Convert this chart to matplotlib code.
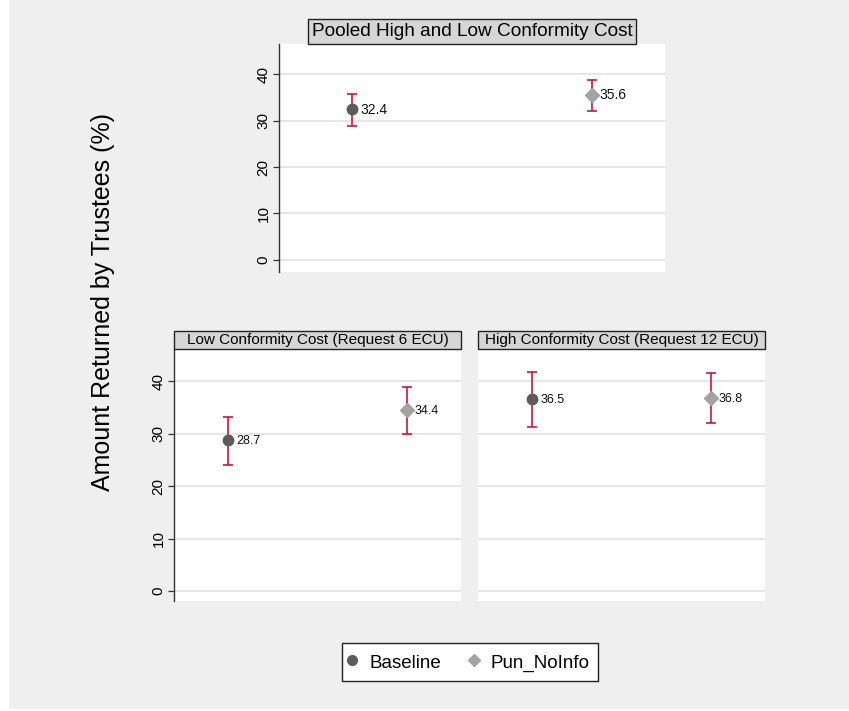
import matplotlib.pyplot as plt
from matplotlib.patches import Rectangle
from matplotlib.lines import Line2D

plt.rcParams['font.family'] = ['Liberation Sans', 'DejaVu Sans']

groups = ['Baseline', 'Pun_NoInfo']
xpos = [1, 2]

# means with lower / upper CI bounds
pooled_mean = [32.4, 35.6]
pooled_lo = [28.8, 32.1]
pooled_hi = [35.8, 38.8]

low_mean = [28.7, 34.4]
low_lo = [24.1, 29.9]
low_hi = [33.2, 38.9]

high_mean = [36.5, 36.8]
high_lo = [31.2, 32.1]
high_hi = [41.7, 41.6]

yticks = [0, 10, 20, 30, 40]

W, H = 849, 711
bg = '#efefef'
marker_color = ['#5b5b5b', '#a3a3a3']
marker_style = ['o', 'D']
marker_size = [7.5, 7]
ci_color = '#cc1444'

fig = plt.figure(figsize=(W / 100, H / 100), dpi=100, facecolor='white')
fig.patches.append(Rectangle((9 / W, 2 / H), 1, 1, transform=fig.transFigure,
                             facecolor=bg, edgecolor='none', zorder=-10))


def px_axes(left, right, top, bottom):
    return fig.add_axes([left / W, 1 - bottom / H, (right - left) / W, (bottom - top) / H])


def panel(ax, mean, lo, hi, title, full_box, label_size, ylim, show_y=True):
    ax.set_facecolor('white')
    for i in range(2):
        ax.errorbar(xpos[i], mean[i],
                    yerr=[[mean[i] - lo[i]], [hi[i] - mean[i]]],
                    fmt='none', ecolor=ci_color, elinewidth=1.2,
                    capsize=3.5, capthick=1.2, zorder=2)
        ax.plot(xpos[i], mean[i], marker=marker_style[i], ms=marker_size[i],
                color=marker_color[i], mec=marker_color[i], ls='none', zorder=3)
        ax.annotate('%.1f' % mean[i], (xpos[i], mean[i]), xytext=(5.5, -0.5),
                    textcoords='offset points', va='center', ha='left',
                    fontsize=label_size, color='#111111', zorder=4)
    ax.set_xlim(0.694, 2.306)
    ax.set_ylim(*ylim)
    ax.set_xticks([])
    ax.set_yticks(yticks)
    ax.grid(axis='y', color='#e4e4e4', lw=1.3)
    ax.set_axisbelow(True)
    for s in ['top', 'right', 'bottom']:
        ax.spines[s].set_visible(False)
    if show_y:
        ax.spines['left'].set_color('#333333')
        ax.spines['left'].set_linewidth(1.0)
        ax.tick_params(axis='y', length=4, width=0.9, color='#333333',
                       labelsize=11, pad=2)
        for t in ax.get_yticklabels():
            t.set_rotation(90)
            t.set_va('center')
    else:
        ax.spines['left'].set_visible(False)
        ax.tick_params(axis='y', length=0, labelleft=False)
    if full_box:
        ax.add_patch(Rectangle((0, 1), 1, 18 / ax.bbox.height, transform=ax.transAxes,
                               facecolor='#d6d6d6', edgecolor='#222222', lw=1.0,
                               clip_on=False, zorder=5))
        ax.text(0.5, 1 + 9 / ax.bbox.height, title, transform=ax.transAxes,
                ha='center', va='center', fontsize=11, zorder=6)
    else:
        ax.annotate(title, (0.5, 1), xycoords='axes fraction', xytext=(0, 3),
                    textcoords='offset points', ha='center', va='bottom',
                    fontsize=13.7, zorder=6,
                    bbox=dict(boxstyle='square,pad=0.2', fc='#d6d6d6',
                              ec='#222222', lw=1.0))


ax_top = px_axes(279, 665, 44, 272)
panel(ax_top, pooled_mean, pooled_lo, pooled_hi,
      'Pooled High and Low Conformity Cost', False, 10, (-2.6, 46.5))

ax_low = px_axes(174, 461, 349, 601)
panel(ax_low, low_mean, low_lo, low_hi,
      'Low Conformity Cost (Request 6 ECU)', True, 9, (-1.9, 46.1))

ax_high = px_axes(478, 765, 349, 601)
panel(ax_high, high_mean, high_lo, high_hi,
      'High Conformity Cost (Request 12 ECU)', True, 9, (-1.9, 46.1), show_y=False)

fig.text(103 / W, 1 - 302 / H, 'Amount Returned by Trustees (%)', rotation=90,
         ha='center', va='center', fontsize=18)

handles = [Line2D([], [], marker=marker_style[i], color=marker_color[i], ls='none',
                  ms=marker_size[i] - 0.5) for i in range(2)]
leg = fig.legend(handles, groups, loc='center', bbox_to_anchor=(470 / W, 1 - 662 / H),
                 ncol=2, fontsize=13.5, frameon=True, fancybox=False,
                 edgecolor='#222222', facecolor='white', handletextpad=0.8,
                 columnspacing=1.65, handlelength=0.2, handleheight=1.3,
                 borderpad=0.45)
leg.get_frame().set_linewidth(1.0)
leg.get_frame().set_alpha(1)

fig.savefig('out.png', dpi=100, facecolor=fig.get_facecolor())
